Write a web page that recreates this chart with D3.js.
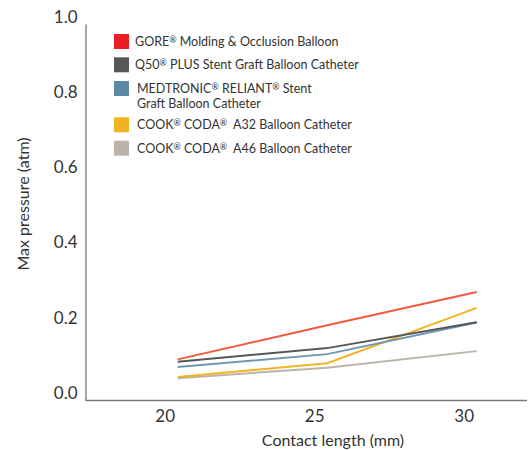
<!DOCTYPE html>
<html>
<head>
<meta charset="utf-8">
<script src="https://cdn.jsdelivr.net/npm/d3@7"></script>
<style>
  body { margin: 0; background: #fff; }
  svg text { font-family: Lato, "Open Sans", sans-serif; fill: #333; }
</style>
</head>
<body>
<div id="chart"></div>
<script>
// contact length (mm)
var lengths = [20, 25, 30];

// max pressure (atm)
var gore    = [0.108, 0.199, 0.287];
var q50     = [0.102, 0.138, 0.207];
var reliant = [0.088, 0.122, 0.206];
var codaA32 = [0.061, 0.098, 0.245];
var codaA46 = [0.058, 0.086, 0.130];

var seriesNames = [
    ["GORE\u00AE Molding & Occlusion Balloon"],
    ["Q50\u00AE PLUS Stent Graft Balloon Catheter"],
    ["MEDTRONIC\u00AE RELIANT\u00AE Stent", "Graft Balloon Catheter"],
    ["COOK\u00AE CODA\u00AE  A32 Balloon Catheter"],
    ["COOK\u00AE CODA\u00AE  A46 Balloon Catheter"]
];
var yTicks = [0, 0.2, 0.4, 0.6, 0.8, 1.0];
var xTicks = [20, 25, 30];

var swatchColors = ["#ed1c24", "#555759", "#5b88a5", "#f0b323", "#bcb4aa"];
var lineColors   = ["#f15a3f", "#555759", "#6f97b3", "#f0b323", "#bcb4aa"];

var allSeries = [gore, q50, reliant, codaA32, codaA46];

var width = 528, height = 450;
var svg = d3.select("#chart").append("svg")
    .attr("width", width)
    .attr("height", height);

var x = d3.scaleLinear().domain([20, 30]).range([177.7, 476.7]);
var y = d3.scaleLinear().domain([0, 1]).range([400, 24]);

// axes (labels sit a little off their positions, like the original)
var yAxis = svg.append("g")
    .attr("transform", "translate(85.5,0)")
    .call(d3.axisLeft(y).tickValues(yTicks).tickSize(0).tickPadding(8)
        .tickFormat(d3.format(".1f")));
yAxis.select(".domain").attr("stroke", "#777").attr("stroke-width", 1.3);
yAxis.selectAll("text")
    .attr("font-size", 17)
    .attr("dy", "-0.1em")
    .attr("fill", "#333");

var xAxis = svg.append("g")
    .attr("transform", "translate(0,400.5)")
    .call(d3.axisBottom(x).tickValues(xTicks).tickSize(0).tickPadding(9));
xAxis.select(".domain").attr("d", "M85.5,0H527").attr("stroke", "#777").attr("stroke-width", 1.3);
xAxis.selectAll("text")
    .attr("font-size", 17)
    .attr("dx", -13)
    .attr("fill", "#333");

svg.append("text")
    .attr("x", 333)
    .attr("y", 446)
    .attr("text-anchor", "middle")
    .attr("font-size", 16)
    .text("Contact length (mm)");

svg.append("text")
    .attr("transform", "translate(29,204) rotate(-90)")
    .attr("text-anchor", "middle")
    .attr("font-size", 16)
    .text("Max pressure (atm)");

// lines
var line = d3.line()
    .x(function(d, i) { return x(lengths[i]); })
    .y(function(d) { return y(d); });

// draw back to front so red ends on top
for (var s = allSeries.length - 1; s >= 0; s--) {
    svg.append("path")
        .datum(allSeries[s])
        .attr("d", line)
        .attr("fill", "none")
        .attr("stroke", lineColors[s])
        .attr("stroke-width", 2);
}

// legend, with the ® marks raised and small
function addLabel(textEl, str) {
    var parts = str.split("\u00AE");
    parts.forEach(function(p, k) {
        if (p.length) textEl.append("tspan").text(p);
        if (k < parts.length - 1) {
            textEl.append("tspan")
                .attr("font-size", "0.7em")
                .attr("baseline-shift", "35%")
                .text("\u00AE");
        }
    });
}

var legendY = [34, 57.3, 81, 117.3, 140.7];
var legend = svg.append("g");
seriesNames.forEach(function(name, i) {
    var g = legend.append("g").attr("transform", "translate(114," + legendY[i] + ")");
    g.append("rect")
        .attr("width", 15)
        .attr("height", 15)
        .attr("fill", swatchColors[i]);
    name.forEach(function(t, j) {
        var txt = g.append("text")
            .attr("x", i >= 2 ? 23 : 21)
            .attr("y", 12 + j * 14.7)
            .attr("font-size", 12.5)
            .style("white-space", "pre");
        addLabel(txt, t);
    });
});
</script>
</body>
</html>
